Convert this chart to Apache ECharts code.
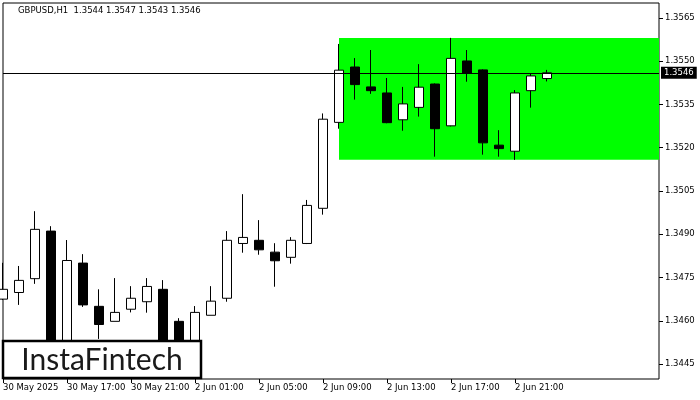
<!DOCTYPE html>
<html><head><meta charset="utf-8">
<script src="https://cdn.jsdelivr.net/npm/echarts@6/dist/echarts.min.js"></script>
<style>html,body{margin:0;padding:0;background:#fff}#c{width:700px;height:400px}</style>
</head><body><div id="c"></div>
<script>
const categories = [
  "30 May 13:00","30 May 14:00","30 May 15:00","30 May 16:00","30 May 17:00","30 May 18:00","30 May 19:00","30 May 20:00",
  "30 May 21:00","30 May 22:00","30 May 23:00","2 Jun 00:00","2 Jun 01:00","2 Jun 02:00","2 Jun 03:00","2 Jun 04:00",
  "2 Jun 05:00","2 Jun 06:00","2 Jun 07:00","2 Jun 08:00","2 Jun 09:00","2 Jun 10:00","2 Jun 11:00","2 Jun 12:00",
  "2 Jun 13:00","2 Jun 14:00","2 Jun 15:00","2 Jun 16:00","2 Jun 17:00","2 Jun 18:00","2 Jun 19:00","2 Jun 20:00",
  "2 Jun 21:00","2 Jun 22:00","2 Jun 23:00","3 Jun 00:00","3 Jun 01:00","3 Jun 02:00","3 Jun 03:00","3 Jun 04:00",
  "3 Jun 05:00","3 Jun 06:00"
];
const tickLabels = ["30 May 2025","30 May 17:00","30 May 21:00","2 Jun 01:00","2 Jun 05:00","2 Jun 09:00","2 Jun 13:00","2 Jun 17:00","2 Jun 21:00"];
const opens  = [1.34675,1.34698,1.34746,1.34911,1.34500,1.34800,1.34650,1.34598,1.34640,1.34666,1.34709,1.34598,1.34520,1.34619,1.34678,1.34868,1.34879,1.34838,1.34820,1.34868,1.34990,1.35288,1.35480,1.35411,1.35390,1.35297,1.35340,1.35421,1.35276,1.35501,1.35470,1.35209,1.35188,1.35398,1.3544];
const closes = [1.34709,1.34740,1.34917,1.34498,1.34809,1.34655,1.34587,1.34629,1.34678,1.34719,1.34500,1.34520,1.34629,1.34668,1.34879,1.34889,1.34846,1.34808,1.34879,1.35000,1.35299,1.35469,1.35419,1.35398,1.35287,1.35352,1.35410,1.35266,1.35510,1.35458,1.35217,1.35197,1.35390,1.35449,1.3546];
const lows   = [1.34672,1.34655,1.34728,1.34481,1.34480,1.34648,1.34537,1.34598,1.34629,1.34628,1.34480,1.34500,1.34500,1.34619,1.34666,1.34836,1.34829,1.34718,1.34798,1.34866,1.34968,1.35266,1.35367,1.35387,1.35285,1.35259,1.35308,1.35169,1.35274,1.35429,1.35176,1.35169,1.35158,1.35339,1.3543];
const highs  = [1.34801,1.34790,1.34980,1.34928,1.34880,1.34831,1.34709,1.34748,1.34720,1.34748,1.34741,1.34609,1.34651,1.34720,1.34911,1.35039,1.34949,1.34869,1.34890,1.35019,1.35319,1.35560,1.35511,1.35539,1.35442,1.35411,1.35490,1.35423,1.35581,1.35539,1.35472,1.35261,1.35400,1.35458,1.3547];
const yTicks = [1.3445,1.3460,1.3475,1.3490,1.3505,1.3520,1.3535,1.3550,1.3565];
const rangeTop = 1.35581, rangeBottom = 1.35158, rangeStart = 21;
const lastPrice = 1.3546;
const titleText = "GBPUSD,H1  1.3544 1.3547 1.3543 1.3546";

const candles = opens.map((o, i) => [o, closes[i], lows[i], highs[i]]);
const small = {fontFamily: "DejaVu Sans", fontSize: 8.5, color: "#000"};
const showTick = (i) => i % 4 === 0 && i / 4 < tickLabels.length;

const chart = echarts.init(document.getElementById('c'), null, {renderer: 'canvas'});
chart.setOption({
  animation: false,
  backgroundColor: '#fff',
  grid: {left: 3, top: 3, right: 41, bottom: 21, show: true, borderColor: '#000', borderWidth: 1, backgroundColor: 'transparent'},
  xAxis: {
    type: 'category', data: categories, boundaryGap: false,
    axisLine: {show: false},
    axisTick: {show: true, length: 4, interval: (i) => showTick(i), lineStyle: {color: '#000'}},
    axisLabel: Object.assign({interval: (i) => showTick(i), align: 'left', margin: 4,
      formatter: (v, i) => tickLabels[i / 4] || ''}, small),
    splitLine: {show: false}
  },
  yAxis: {
    type: 'value', position: 'right', min: 1.34398, max: 1.35702, scale: true,
    axisLine: {show: false},
    axisTick: {show: true, length: 4, customValues: yTicks, lineStyle: {color: '#000'}},
    axisLabel: Object.assign({customValues: yTicks, margin: 6, formatter: (v) => v.toFixed(4)}, small),
    splitLine: {show: false}
  },
  graphic: [
    {type: 'text', left: 18, top: 6, z: 100, style: {text: titleText, font: '8.5px "DejaVu Sans"', fill: '#000'}},
    {type: 'rect', z: 100, shape: {x: 3, y: 341, width: 198, height: 37}, style: {fill: '#fff', stroke: '#000', lineWidth: 2.5}},
    {type: 'text', z: 101, x: 102, y: 360, style: {text: 'InstaFintech', font: '30px Lato', fill: '#1a1a1a', align: 'center', verticalAlign: 'middle'}}
  ],
  series: [{
    type: 'candlestick',
    data: candles,
    barWidth: 10,
    clip: true,
    itemStyle: {color: '#fff', color0: '#000', borderColor: '#000', borderColor0: '#000', borderWidth: 1},
    markArea: {
      silent: true,
      itemStyle: {color: '#00ff00', opacity: 1},
      data: [[{xAxis: categories[rangeStart], yAxis: rangeTop}, {xAxis: categories[categories.length - 1], yAxis: rangeBottom}]]
    }
  }, {
    type: 'line',
    data: [],
    z: 5,
    markLine: {
      silent: true, symbol: ['none', 'none'], precision: 5,
      lineStyle: {color: '#000', width: 1, type: 'solid'},
      label: {show: true, position: 'end', distance: 2, formatter: lastPrice.toFixed(4), backgroundColor: '#000', color: '#fff',
        fontFamily: 'DejaVu Sans', fontSize: 8.5, padding: [2, 3, 1, 3]},
      data: [[{coord: [categories[0], lastPrice]}, {coord: [categories[categories.length - 1], lastPrice]}]]
    }
  }]
});
</script></body></html>
